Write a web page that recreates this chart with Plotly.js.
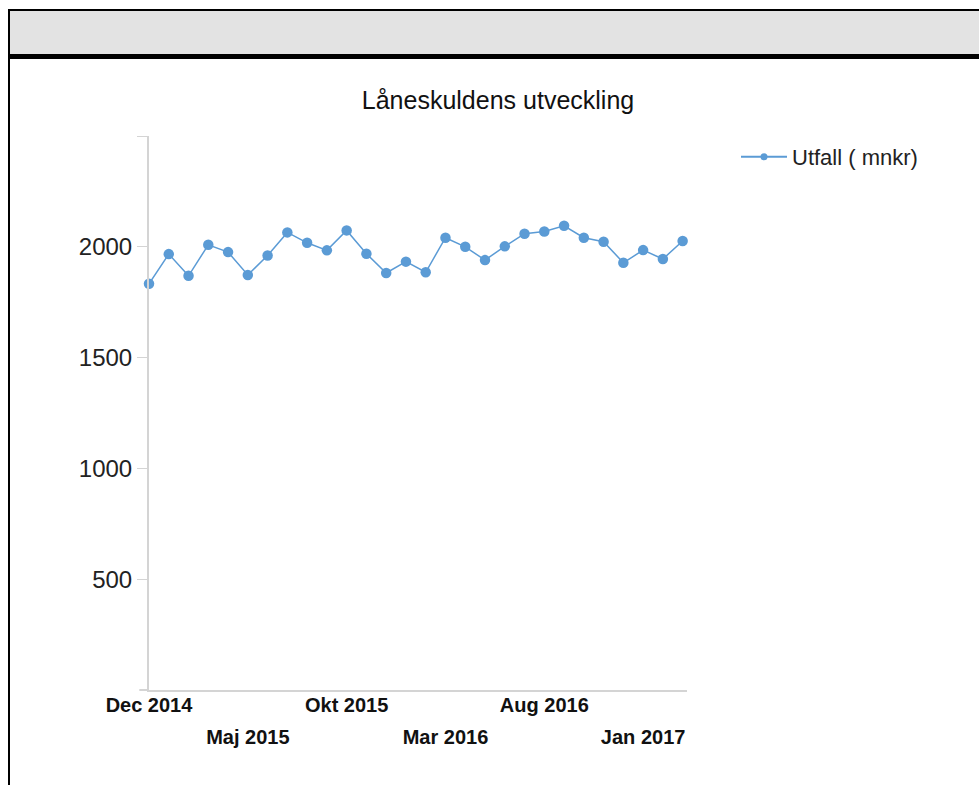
<!DOCTYPE html>
<html>
<head>
<meta charset="utf-8">
<script src="https://cdn.plot.ly/plotly-3.0.1.min.js"></script>
<style>
  html, body { margin:0; padding:0; background:#fff; overflow:hidden; width:979px; height:785px; }
  #frame { position:absolute; left:8px; top:9px; width:1000px; height:820px; border-left:2px solid #000; border-top:2px solid #000; }
  #head { height:43px; background:#e3e3e3; border-bottom:5px solid #000; }
  #chart { width:976px; height:726px; }
</style>
</head>
<body>
<div id="frame">
  <div id="head"></div>
  <div id="chart"></div>
</div>
<script>
// Months (Swedish labels), Dec 2014 .. Mar 2017
const categories = [
  "Dec 2014","Jan 2015","Feb 2015","Mar 2015","Apr 2015","Maj 2015","Jun 2015","Jul 2015",
  "Aug 2015","Sep 2015","Okt 2015","Nov 2015","Dec 2015","Jan 2016","Feb 2016","Mar 2016",
  "Apr 2016","Maj 2016","Jun 2016","Jul 2016","Aug 2016","Sep 2016","Okt 2016","Nov 2016",
  "Dec 2016","Jan 2017","Feb 2017","Mar 2017"
];
// Utfall (mnkr)
const utfall = [
  1833, 1967, 1869, 2009, 1976, 1873, 1961, 2065,
  2018, 1984, 2074, 1969, 1882, 1933, 1885, 2041,
  2000, 1940, 2002, 2059, 2069, 2095, 2041, 2023,
  1928, 1985, 1945, 2026
];
const seriesName = "Utfall ( mnkr)";
const chartTitle = "Låneskuldens utveckling";
const xTickRow1 = ["Dec 2014", "Okt 2015", "Aug 2016"];
const xTickRow2 = ["Maj 2015", "Mar 2016", "Jan 2017"];
const yTickVals = [500, 1000, 1500, 2000, 2500];
const yTickText = ["500", "1000", "1500", "2000", ""];

const idx = categories.map((_, i) => i);
const pos = labels => labels.map(l => categories.indexOf(l));

const color = "rgb(91,155,213)";
const axisGray = "#d4d4d4";
const font = "Liberation Sans, Arial, sans-serif";

const traces = [
  {
    x: idx, y: utfall, text: categories, type: "scatter", mode: "lines+markers",
    line: { color: color, width: 1.5 },
    marker: { color: color, size: 10.5 },
    cliponaxis: false, showlegend: false,
    hovertemplate: "%{text}: %{y}<extra></extra>"
  },
  {
    x: [null], y: [null], type: "scatter", mode: "lines+markers", name: seriesName,
    line: { color: color, width: 2 }, marker: { color: color, size: 7 }
  },
  { x: [null], y: [null], xaxis: "x2", yaxis: "y", showlegend: false, hoverinfo: "skip", type: "scatter", mode: "markers" }
];

const layout = {
  width: 976, height: 726,
  margin: { l: 139, r: 299, t: 77, b: 95 },
  paper_bgcolor: "#fff", plot_bgcolor: "#fff",
  font: { family: font, color: "#222" },
  title: {
    text: chartTitle, font: { family: font, size: 25, color: "#111" },
    xref: "container", x: 0.5, xanchor: "center",
    yref: "container", y: 1 - 41/726, yanchor: "middle"
  },
  xaxis: {
    type: "linear", range: [0, 27.22], showgrid: false, zeroline: false,
    showline: true, linecolor: axisGray, linewidth: 2,
    tickmode: "array", tickvals: pos(xTickRow1), ticktext: xTickRow1,
    ticks: "", ticklabelstandoff: -4,
    tickfont: { family: font, size: 20, color: "#111", weight: "bold" },
    fixedrange: true
  },
  xaxis2: {
    type: "linear", overlaying: "x", matches: "x", anchor: "y", side: "bottom",
    range: [0, 27.22], showgrid: false, zeroline: false, showline: false,
    tickmode: "array", tickvals: pos(xTickRow2), ticktext: xTickRow2,
    ticks: "", ticklabelstandoff: 33,
    tickfont: { family: font, size: 20, color: "#111", weight: "bold" },
    fixedrange: true
  },
  yaxis: {
    range: [0, 2500], showgrid: false, zeroline: false,
    showline: true, linecolor: axisGray, linewidth: 2,
    tickmode: "array", tickvals: yTickVals, ticktext: yTickText,
    ticks: "outside", ticklen: 10, tickwidth: 1, tickcolor: axisGray,
    tickfont: { family: font, size: 24, color: "#222" },
    fixedrange: true
  },
  shapes: [
    { type: "line", xref: "paper", yref: "paper", x0: -0.018, x1: 0, y0: 0, y1: 0,
      line: { color: axisGray, width: 2 } }
  ],
  legend: {
    x: (736 - 149) / 538, xanchor: "left", y: 1.0, yanchor: "top",
    font: { family: font, size: 22, color: "#222" },
    itemwidth: 46, bgcolor: "rgba(0,0,0,0)"
  },
  showlegend: true
};

Plotly.newPlot("chart", traces, layout, { displayModeBar: false, staticPlot: true });
</script>
</body>
</html>
